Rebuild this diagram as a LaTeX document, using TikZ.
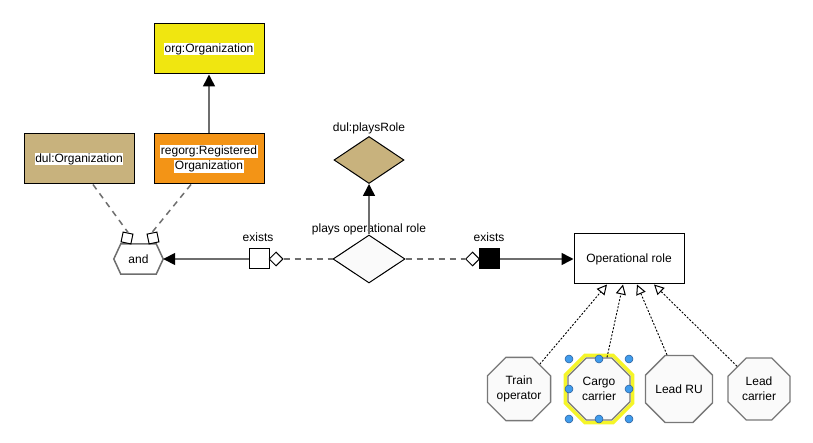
\documentclass[tikz,border=0pt]{standalone}
\usepackage{fontspec}
\setmainfont{Liberation Sans}
\usetikzlibrary{shapes.geometric,arrows.meta,calc}
\definecolor{orgyellow}{RGB}{240,230,16}
\definecolor{regorange}{RGB}{243,148,22}
\definecolor{dultan}{RGB}{200,178,125}
\definecolor{linegray}{RGB}{110,110,110}
\definecolor{octborder}{RGB}{120,120,120}
\definecolor{octfill}{RGB}{250,250,250}
\definecolor{selyellow}{RGB}{245,245,40}
\definecolor{handleblue}{RGB}{64,156,236}
\definecolor{handleedge}{RGB}{40,90,150}
\newcommand\hl[1]{{\setlength{\fboxsep}{0.8pt}\colorbox{white}{#1}}}
\begin{document}
\begin{tikzpicture}[x=1pt,y=-1pt,
  font=\fontsize{12}{15}\selectfont,
  classbox/.style={draw=black, line width=1pt, minimum width=110pt, minimum height=50pt, inner sep=0pt, align=center},
  octa/.style={regular polygon, regular polygon sides=8, minimum size=67pt, inner sep=0pt, draw=octborder, fill=octfill, line width=1.3pt, align=center},
  conn/.style={draw=linegray, line width=1.5pt},
  dashconn/.style={draw=linegray, line width=1.5pt, dash pattern=on 6pt off 5pt},
  dotconn/.style={draw=black, line width=0.9pt, dash pattern=on 2pt off 1.6pt},
  solidtip/.style={-{Triangle[length=12pt,width=12pt,color=black,fill=black]}},
  opentip/.style={-{Triangle[open,length=10pt,width=10pt,line width=1pt,color=black]}},
  smallsq/.style={draw=black, fill=white, line width=1pt, minimum size=10pt, inner sep=0pt},
  smalldia/.style={diamond, draw=black, fill=white, line width=1pt, minimum width=14pt, minimum height=14pt, inner sep=0pt},
  exsq/.style={draw=black, line width=1pt, minimum size=20pt, inner sep=0pt},
  handle/.style={circle, fill=handleblue, draw=handleedge, line width=0.5pt, minimum size=8pt, inner sep=0pt},
  txt/.style={inner sep=0pt}
]
\useasboundingbox (0,0) rectangle (813,443);
\fill[white] (0,0) rectangle (813,443);

% class boxes
\node[classbox, fill=orgyellow] (org) at (209,49) {\hl{org:Organization}};
\node[classbox, fill=regorange] (regorg) at (209,159) {\hl{regorg:Registered}\\\hl{Organization}};
\node[classbox, fill=dultan] (dulorg) at (79,159) {\hl{dul:Organization}};
\node[classbox, fill=white] (op) at (629,259) {Operational role};

% and hexagon
\node[minimum width=49pt, minimum height=30pt, inner sep=0pt] (and) at (138.5,259) {};
\filldraw[fill=white, draw=linegray, line width=1.5pt]
  (and.west) -- ([xshift=7pt]and.north west) -- ([xshift=-7pt]and.north east) -- (and.east)
  -- ([xshift=-7pt]and.south east) -- ([xshift=7pt]and.south west) -- cycle;
\node[txt] at (and.center) {and};
\node[smallsq, rotate=-12] (sq1) at (127,238) {};
\node[smallsq, rotate=12] (sq2) at (153,238) {};

% diamonds
\node[diamond, draw=black, fill=octfill, line width=1pt, minimum width=72pt, minimum height=48pt, inner sep=0pt] (plays) at (369,259) {};
\node[txt] (playslbl) at (369,229) {plays operational role};
\node[diamond, draw=black, fill=dultan, line width=1pt, minimum width=70pt, minimum height=47pt, inner sep=0pt] (role) at (369,160) {};
\node[txt] (rolelbl) at (369,128) {dul:playsRole};

% exists markers
\node[exsq, fill=white] (ex1) at (259,259) {};
\node[smalldia] (d1) at (276,259) {};
\node[txt] (ex1lbl) at (258,237) {exists};
\node[smalldia] (d2) at (472.5,259) {};
\node[exsq, fill=black] (ex2) at (489.5,259) {};
\node[txt] (ex2lbl) at (489,237) {exists};

% octagons
\node[octa] (train) at (519,389) {Train\\operator};
\node[regular polygon, regular polygon sides=8, minimum size=73pt, inner sep=0pt, draw=selyellow, line width=3.5pt] (sel) at (599,389) {};
\node[octa] (cargo) at (599,389) {Cargo\\carrier};
\node[octa] (leadru) at (679,389) {Lead RU};
\node[octa] (leadc) at (759,389) {Lead\\carrier};

% connectors
\draw[conn, solidtip] (regorg.north) -- (org.south);
\draw[dashconn] ([xshift=14pt]dulorg.south) -- (sq1.north);
\draw[dashconn] ([xshift=-18pt]regorg.south) -- (sq2.north);
\draw[conn, solidtip] (ex1.west) -- (and.east);
\draw[dashconn] (d1.east) -- (plays.west);
\draw[dashconn] (plays.east) -- (d2.west);
\draw[conn, solidtip] (ex2.east) -- (op.west);
\draw[conn, solidtip] (plays.north) -- (role.south);

\draw[dotconn, opentip] (train.50) -- ([xshift=-22pt]op.south);
\draw[dotconn, opentip] ([xshift=8pt]cargo.north) -- ([xshift=-6pt]op.south);
\draw[dotconn, opentip] ([xshift=-12pt]leadru.north) -- ([xshift=8pt]op.south);
\draw[dotconn, opentip] (leadc.134) -- ([xshift=25pt]op.south);

% selection handles
\foreach \hx/\hy [count=\i] in {569/359,599/359,629/359,569/389,629/389,569/419,599/419,629/419}
  \node[handle] (h\i) at (\hx,\hy) {};
\end{tikzpicture}
\end{document}
